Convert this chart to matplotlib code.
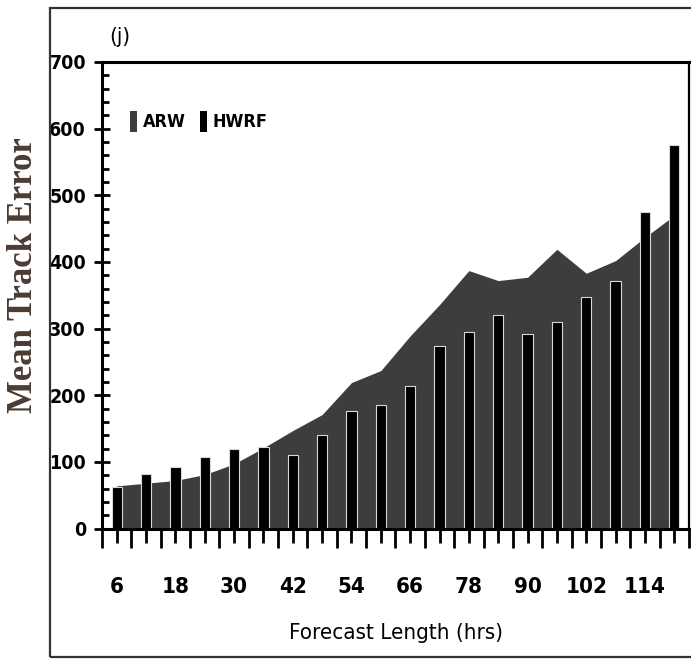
import matplotlib.pyplot as plt
from matplotlib.patches import Patch, Rectangle
from matplotlib.ticker import MultipleLocator

# Forecast lengths (hrs) and mean track errors.
hours = [6, 12, 18, 24, 30, 36, 42, 48, 54, 60,
         66, 72, 78, 84, 90, 96, 102, 108, 114, 120]
arw = [64, 68, 72, 81, 97, 121, 147, 171, 219, 237,
       289, 336, 387, 372, 377, 419, 383, 402, 437, 470]
hwrf = [62, 82, 93, 107, 120, 122, 111, 141, 177, 186,
        214, 274, 295, 320, 292, 310, 347, 371, 475, 576]
x_labels = ['6', '18', '30', '42', '54', '66', '78', '90', '102', '114']

plt.rcParams['font.family'] = ['DejaVu Sans']
plt.rcParams['font.stretch'] = 'condensed'

fig = plt.figure(figsize=(6.91, 6.60), dpi=100)
ax = fig.add_axes([0.1476, 0.1992, 0.9971 - 0.1476, 0.9061 - 0.1992])

# Area for ARW, columns for HWRF.
ax.fill_between(hours, 0, arw, color='#3d3d3d', linewidth=0, zorder=1)
ax.bar(hours, hwrf, width=2.1, color='black', edgecolor='#d8d8d8',
       linewidth=0.8, zorder=2)

ax.set_xlim(3, 123)
ax.set_ylim(0, 700)

# Ticks: long ones between categories, short ones at the columns.
ax.set_xticks(range(3, 124, 6))
ax.set_xticklabels([])
minor_labels = []
for h in hours:
    minor_labels.append(str(h) if str(h) in x_labels else '')
ax.set_xticks(hours, minor=True)
ax.set_xticklabels(minor_labels, minor=True)
ax.tick_params(axis='x', which='major', direction='out', length=14, width=2)
ax.tick_params(axis='x', which='minor', direction='out', length=10, width=2,
               pad=25, labelsize=16)

ax.yaxis.set_major_locator(MultipleLocator(100))
ax.yaxis.set_minor_locator(MultipleLocator(20))
ax.tick_params(axis='y', which='major', direction='inout', length=11, width=2,
               pad=6, labelsize=14)
ax.tick_params(axis='y', which='minor', direction='in', length=5, width=2)
for label in ax.get_xticklabels(minor=True) + ax.get_yticklabels():
    label.set_fontweight('bold')

for side in ['left', 'bottom', 'top']:
    ax.spines[side].set_linewidth(2.2)
ax.spines['right'].set_linewidth(1.6)

# Legend.
handles = [Patch(facecolor='#3d3d3d', edgecolor='none', label='ARW'),
           Patch(facecolor='black', edgecolor='none', label='HWRF')]
ax.legend(handles=handles, loc='upper left', bbox_to_anchor=(0.02, 0.93),
          ncol=2, frameon=False, handlelength=0.4, handleheight=1.4,
          handletextpad=0.3, columnspacing=0.8,
          prop={'weight': 'bold', 'size': 13})

fig.text(0.5724, 1 - 633 / 660, 'Forecast Length (hrs)', ha='center',
         va='center', fontsize=16)
fig.text(120 / 691, 1 - 37 / 660, '(j)', ha='center', va='center',
         fontsize=16)
fig.text(24 / 691, 1 - 275 / 660, 'Mean Track Error', rotation=90,
         ha='center', va='center', fontsize=25, fontweight='bold',
         family=['Liberation Serif', 'DejaVu Serif'], fontstretch='normal',
         color='#4b3c33')

# Outer frame of the figure panel.
fig.add_artist(Rectangle((50 / 691, 0.0045), 1.0, 0.984, transform=fig.transFigure,
                         fill=False, edgecolor='#333333', linewidth=1.6))

fig.savefig('out.png', dpi=100)
